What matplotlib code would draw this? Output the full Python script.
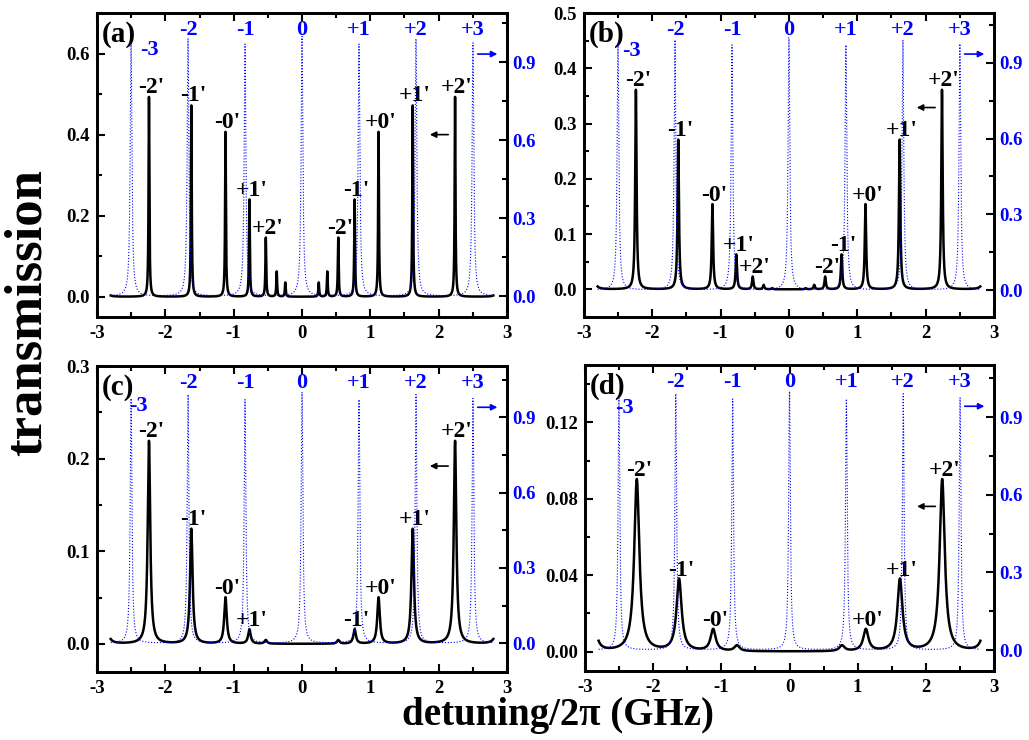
import numpy as np
import matplotlib
matplotlib.use("Agg")
import matplotlib.pyplot as plt
from matplotlib.ticker import MultipleLocator, FormatStrFormatter

plt.rcParams['font.family'] = ['Liberation Serif', 'DejaVu Serif']
plt.rcParams['font.weight'] = 'bold'
plt.rcParams['axes.unicode_minus'] = False

# blue reference comb (right axis)
blue_pos = [-2.502, -1.668, -0.834, 0.0, 0.834, 1.668, 2.502]
blue_height = [0.975, 0.99, 0.97, 1.0, 0.97, 0.99, 0.975]
blue_names = ["-3", "-2", "-1", "0", "+1", "+2", "+3"]
blue_width = 0.015

# black transmission peaks (left axis), edge peaks at +-2.88 lie just outside the plotted range
black_pos = [-2.88, -2.24, -1.62, -1.12, -0.77, -0.53, -0.37, -0.245,
             0.245, 0.37, 0.53, 0.77, 1.12, 1.62, 2.24, 2.88]
h_a = [0.40, 0.493, 0.473, 0.407, 0.240, 0.146, 0.062, 0.035,
       0.035, 0.062, 0.146, 0.240, 0.407, 0.473, 0.493, 0.40]
h_b = [0.23, 0.361, 0.271, 0.154, 0.063, 0.023, 0.008, 0.002,
       0.002, 0.008, 0.023, 0.063, 0.154, 0.271, 0.361, 0.23]
h_c = [0.07, 0.219, 0.124, 0.050, 0.0155, 0.004, 0.0, 0.0,
       0.0, 0.0, 0.004, 0.0155, 0.050, 0.124, 0.219, 0.07]
h_d = [0.021, 0.090, 0.0377, 0.0114, 0.003, 0.0, 0.0, 0.0,
       0.0, 0.0, 0.0, 0.003, 0.0114, 0.0377, 0.090, 0.021]
widths = [0.007, 0.012, 0.022, 0.045]
heights = [h_a, h_b, h_c, h_d]

# peak labels: index into black_pos
lab_a = [(1, "-2'"), (2, "-1'"), (3, "-0'"), (4, "+1'"), (5, "+2'"),
         (10, "-2'"), (11, "-1'"), (12, "+0'"), (13, "+1'"), (14, "+2'")]
lab_c = [(1, "-2'"), (2, "-1'"), (3, "-0'"), (4, "+1'"),
         (11, "-1'"), (12, "+0'"), (13, "+1'"), (14, "+2'")]
lab_d = [(1, "-2'"), (2, "-1'"), (3, "-0'"),
         (12, "+0'"), (13, "+1'"), (14, "+2'")]
labels = [lab_a, lab_a, lab_c, lab_d]

panel_names = ["(a)", "(b)", "(c)", "(d)"]
rects = [[0.0943, 0.5716, 0.3984, 0.4108], [0.5675, 0.5716, 0.3984, 0.4108],
         [0.0943, 0.0923, 0.3984, 0.4131], [0.5685, 0.0936, 0.3975, 0.4132]]
ylims = [(-0.05, 0.70), (-0.05, 0.50), (-0.03, 0.30), (-0.01, 0.15)]
ymajor = [0.2, 0.1, 0.1, 0.04]
yfmt = ['%.1f', '%.1f', '%.1f', '%.2f']
y2lims = [(-0.08, 1.09), (-0.107, 1.097), (-0.113, 1.104), (-0.08, 1.102)]
minus3 = [(-2.24, 0.878), (-2.30, 0.874), (-2.40, 0.868), (-2.42, 0.858)]
black_arrow_y = [0.40, 0.329, 0.192, 0.076]


def lorentz(x, pos, hts, w):
    y = np.zeros_like(x)
    for p, h in zip(pos, hts):
        y += h * w**2 / ((x - p)**2 + w**2)
    return y


x = np.linspace(-2.8, 2.8, 8000)
fig = plt.figure(figsize=(10.29, 7.40), dpi=100)

for i in range(4):
    ax = fig.add_axes(rects[i])
    ax2 = ax.twinx()
    yb = lorentz(x, black_pos, heights[i], widths[i])
    ybl = lorentz(x, blue_pos, blue_height, blue_width)
    ax.plot(x, yb, color='black', lw=1.8, zorder=3)
    ax2.plot(x, ybl, color='blue', lw=0.8, ls=':')

    ax.set_xlim(-3, 3)
    ax.set_ylim(*ylims[i])
    ax2.set_ylim(*y2lims[i])
    ax.xaxis.set_major_locator(MultipleLocator(1))
    ax.xaxis.set_minor_locator(MultipleLocator(0.5))
    ax.yaxis.set_major_locator(MultipleLocator(ymajor[i]))
    ax.yaxis.set_minor_locator(MultipleLocator(ymajor[i] / 2))
    ax.yaxis.set_major_formatter(FormatStrFormatter(yfmt[i]))
    ax2.set_yticks([0.0, 0.3, 0.6, 0.9])
    ax2.yaxis.set_minor_locator(MultipleLocator(0.15))
    ax2.yaxis.set_major_formatter(FormatStrFormatter('%.1f'))

    ax.tick_params(which='both', direction='in', top=True, right=False, width=1.5, labelsize=13.5)
    ax.tick_params(which='major', length=6)
    ax.tick_params(which='minor', length=3.5)
    ax.tick_params(axis='x', pad=6)
    ax.tick_params(axis='y', pad=5)
    ax2.tick_params(which='both', direction='in', width=1.5, labelsize=13.5,
                    colors='black', labelcolor='blue', pad=4)
    ax2.tick_params(which='major', length=6)
    ax2.tick_params(which='minor', length=3.5)
    for a in (ax, ax2):
        for s in a.spines.values():
            s.set_linewidth(2)
    for t in ax.get_xticklabels() + ax.get_yticklabels() + ax2.get_yticklabels():
        t.set_fontweight('bold')

    # labels of the blue comb
    tr = ax.get_xaxis_transform()
    for k, name in enumerate(blue_names):
        if k == 0:
            ax.text(minus3[i][0], minus3[i][1], name, color='blue', fontsize=16,
                    ha='center', va='center', transform=tr)
        else:
            ax.text(blue_pos[k], 0.943, name, color='blue',
                    fontsize=16, ha='center', va='center', transform=tr)

    # labels of the black peaks
    for idx, name in labels[i]:
        ax.annotate(name, (black_pos[idx] + 0.03, heights[i][idx]), xytext=(0, -1),
                    textcoords='offset points', ha='center', va='bottom', fontsize=17)

    ax.text(0.012, 0.93, panel_names[i], transform=ax.transAxes, fontsize=21,
            ha='left', va='center')

    # axis arrows
    ax.annotate('', xy=(2.90, 0.865), xytext=(2.53, 0.865), xycoords=tr, textcoords=tr,
                arrowprops=dict(arrowstyle='-|>', color='blue', lw=1.2, mutation_scale=9))
    ax.annotate('', xy=(1.83, black_arrow_y[i]), xytext=(2.18, black_arrow_y[i]),
                arrowprops=dict(arrowstyle='-|>', color='black', lw=1.2, mutation_scale=9))

fig.text(0.027, 0.577, 'transmission', rotation=90, fontsize=38, ha='center', va='center')
fig.text(0.542, 0.033, 'detuning/2π (GHz)', fontsize=28, ha='center', va='center')

fig.savefig('out.png', dpi=100)
